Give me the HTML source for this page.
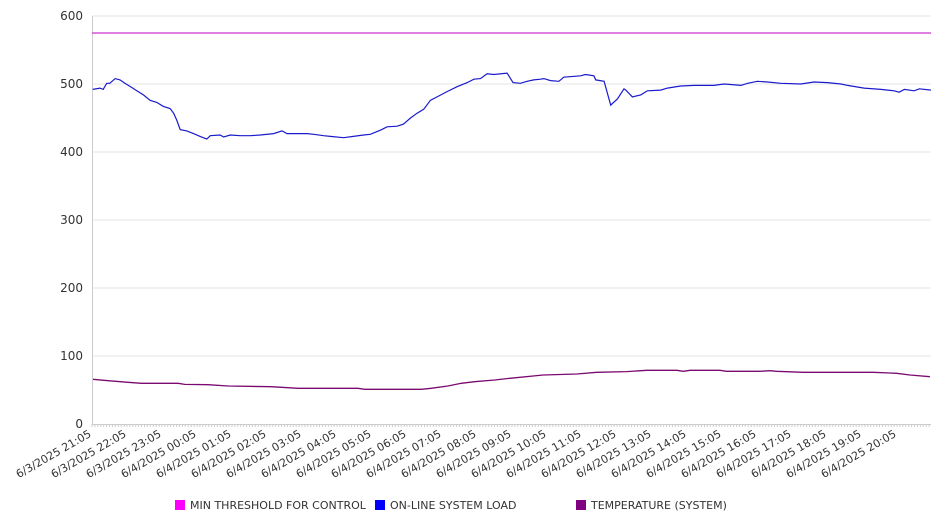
<!DOCTYPE html>
<html><head><meta charset="utf-8"><style>
html,body{margin:0;padding:0;background:#fff;width:946px;height:526px;overflow:hidden}
svg text{font-family:"DejaVu Sans","Liberation Sans",sans-serif;fill:#333}
</style></head><body>
<svg id="chart" width="946" height="526" xmlns="http://www.w3.org/2000/svg"></svg>
<script>
const tickLabels=["6/3/2025 21:05","6/3/2025 22:05","6/3/2025 23:05","6/4/2025 00:05","6/4/2025 01:05","6/4/2025 02:05","6/4/2025 03:05","6/4/2025 04:05","6/4/2025 05:05","6/4/2025 06:05","6/4/2025 07:05","6/4/2025 08:05","6/4/2025 09:05","6/4/2025 10:05","6/4/2025 11:05","6/4/2025 12:05","6/4/2025 13:05","6/4/2025 14:05","6/4/2025 15:05","6/4/2025 16:05","6/4/2025 17:05","6/4/2025 18:05","6/4/2025 19:05","6/4/2025 20:05"];
const yTicks=[0,100,200,300,400,500,600];
const thresholdValue=575;
const loadHours=[0.02,0.23,0.32,0.42,0.51,0.66,0.80,0.94,1.13,1.28,1.47,1.66,1.85,2.04,2.23,2.33,2.42,2.52,2.71,2.90,3.09,3.28,3.38,3.66,3.76,3.95,4.23,4.52,4.81,5.19,5.43,5.57,5.95,6.14,6.33,6.62,6.81,7.19,7.47,7.76,7.95,8.24,8.43,8.72,8.90,9.10,9.29,9.48,9.67,9.86,10.15,10.43,10.72,10.91,11.10,11.29,11.48,11.86,12.03,12.24,12.43,12.62,12.81,12.91,13.10,13.34,13.48,13.96,14.10,14.34,14.39,14.63,14.82,15.01,15.20,15.25,15.44,15.68,15.87,16.25,16.44,16.82,17.20,17.77,18.06,18.54,18.73,19.01,19.30,19.68,20.25,20.63,21.01,21.40,21.59,22.06,22.54,22.92,23.06,23.21,23.49,23.64,23.97];
const loadValues=[492,494,492,501,501,508,506,501,495,490,484,476,473,467,464,457,447,433,431,427,423,419,424,425,422,425,424,424,425,427,431,427,427,427,426,424,423,421,423,425,426,432,437,438,441,450,457,463,476,481,489,496,502,507,508,515,514,516,502,501,504,506,507,508,505,504,510,512,514,512,506,504,469,478,493,491,481,484,490,491,494,497,498,498,500,498,501,504,503,501,500,503,502,500,498,494,492,490,488,492,490,493,491];
const tempHours=[0.03,0.46,1.03,1.41,2.46,2.65,3.31,3.89,5.12,5.89,7.6,7.79,9.41,9.69,10.17,10.55,10.93,11.51,11.94,12.89,13.85,14.42,15.28,15.85,16.71,16.89,17.09,17.94,18.13,19.09,19.37,19.56,20.32,22.32,22.99,23.37,23.94];
const tempValues=[65.7,63.7,61.3,59.8,59.8,58.3,57.8,55.9,54.9,52.5,52.5,51,51,52.5,55.9,59.8,62.2,64.7,67.2,72.1,73.5,76,77,79,79,77.5,79,79,77.5,77.5,78.4,77.5,76,76,74.5,72.1,69.6];

const svg=document.getElementById('chart');
const NS='http://www.w3.org/2000/svg';
const X0=92,X1=931,Y0=424,Y1=16,PXH=35,YMAX=600;
const xs=h=>X0+h*PXH;
const ys=v=>Y0-(v/YMAX)*(Y0-Y1);
function mk(t,a,p){const e=document.createElementNS(NS,t);for(const k in a)e.setAttribute(k,a[k]);(p||svg).appendChild(e);return e;}

const grid=mk('g',{});


yTicks.forEach(v=>{
  if(v>0){const l=mk('line',{x1:X0,x2:X1,y1:ys(v),y2:ys(v),stroke:'#e6e6e6','stroke-width':1},grid);
  
  }
  const t=mk('text',{x:83,y:ys(v)+4,'text-anchor':'end','font-size':12});
  t.textContent=v;
  
  
});
const ya=mk('line',{x1:X0+0.5,x2:X0+0.5,y1:Y1,y2:Y0,stroke:'#ccc'});


const xa=mk('line',{x1:X0,x2:X1,y1:Y0+0.5,y2:Y0+0.5,stroke:'#ccc'});


let d='';for(let x=X0;x<=X1;x+=PXH/12){d+=`M${x.toFixed(1)} ${Y0}v3`;}
const mt=mk('path',{d:d,stroke:'#ccc','stroke-width':1,fill:'none'});


tickLabels.forEach((s,i)=>{
  const x=xs(i),y=Y0+12;
  const t=mk('text',{x:x,y:y,'text-anchor':'end','font-size':11,transform:`rotate(-30 ${x} ${y})`});
  t.textContent=s;
  
  
});
const th=mk('line',{x1:X0,x2:X1,y1:ys(thresholdValue),y2:ys(thresholdValue),stroke:'#cc33cc','stroke-width':1.2});


const lp=mk('polyline',{points:loadHours.map((h,i)=>xs(h).toFixed(1)+','+ys(loadValues[i]).toFixed(1)).join(' '),fill:'none',stroke:'#1a1acc','stroke-width':1.2});


const tp=mk('polyline',{points:tempHours.map((h,i)=>xs(h).toFixed(1)+','+ys(tempValues[i]).toFixed(1)).join(' '),fill:'none',stroke:'#7a0a70','stroke-width':1.3});



const legend=[["MIN THRESHOLD FOR CONTROL","#ff00ff",175],["ON-LINE SYSTEM LOAD","#0000ff",375],["TEMPERATURE (SYSTEM)","#800080",576]];
legend.forEach(([n,c,x])=>{
  const g=mk('g',{});
  
  
  mk('rect',{x:x,y:500,width:10,height:10,fill:c},g);
  const t=mk('text',{x:x+15,y:509,'font-size':11},g);
  t.textContent=n;
});
</script>
</body></html>
